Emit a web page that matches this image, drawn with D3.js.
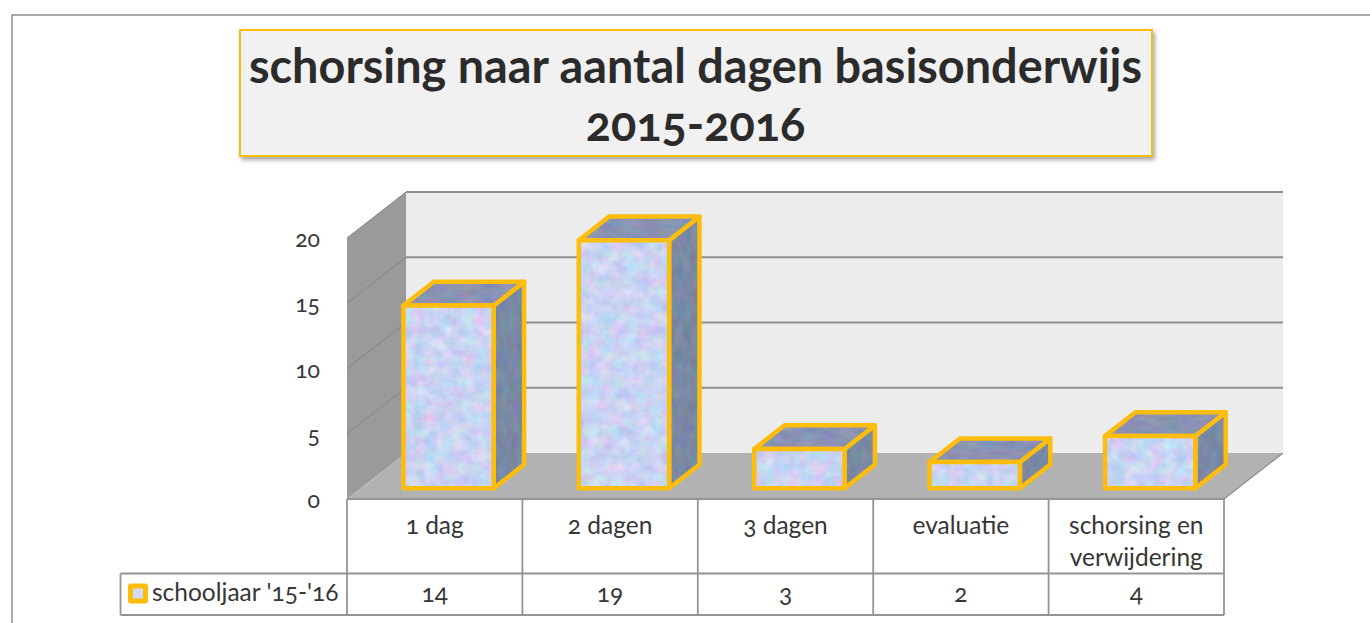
<!DOCTYPE html>
<html>
<head>
<meta charset="utf-8">
<script src="https://cdn.jsdelivr.net/npm/d3@7"></script>
<style>
  html, body { margin: 0; padding: 0; background: #fff; overflow: hidden; }
  svg { display: block; }
  text { font-family: "Lato", "Open Sans", sans-serif; fill: #363636; font-variant-numeric: oldstyle-nums; }
</style>
</head>
<body>
<svg id="chart" width="1370" height="623"></svg>
<script>
var categories = ["1 dag", "2 dagen", "3 dagen", "evaluatie", "schorsing en|verwijdering"];
var values = [14, 19, 3, 2, 4];
var seriesName = "schooljaar '15-'16";
var yTicks = [0, 5, 10, 15, 20];
var titleLines = ["schorsing naar aantal dagen basisonderwijs", "2015-2016"];

var svg = d3.select("#chart");
var defs = svg.append("defs");

var gold = "#fcbd0d", gridGrey = "#8e8e8e";

// mottled fills for the bar faces
function marble(id, freq, seed, matrix) {
  var f = defs.append("filter").attr("id", id)
    .attr("color-interpolation-filters", "sRGB")
    .attr("x", "0").attr("y", "0").attr("width", "100%").attr("height", "100%");
  f.append("feTurbulence").attr("type", "fractalNoise")
    .attr("baseFrequency", freq).attr("numOctaves", 4).attr("seed", seed);
  f.append("feColorMatrix").attr("type", "matrix").attr("values", matrix);
  f.append("feComposite").attr("operator", "in").attr("in2", "SourceGraphic");
}
marble("faceFront", "0.08", 3,
  "0.3 0 0 0 0.64  0 0.22 0 0 0.72  0 0 0.1 0 0.90  0 0 0 0 1");
marble("faceSide", "0.12 0.06", 8,
  "0.15 0 0 0 0.40  0 0.15 0 0 0.46  0 0 0.15 0 0.57  0 0 0 0 1");
marble("faceTop", "0.05 0.14", 5,
  "0.2 0 0 0 0.44  0 0.15 0 0 0.50  0 0 0.15 0 0.63  0 0 0 0 1");

var shadow = defs.append("filter").attr("id", "titleShadow")
  .attr("x", "-5%").attr("y", "-10%").attr("width", "110%").attr("height", "125%");
shadow.append("feDropShadow").attr("dx", 2).attr("dy", 3).attr("stdDeviation", 2)
  .attr("flood-color", "#000").attr("flood-opacity", 0.35);

// outer frame, runs off the right and bottom of the page
svg.append("rect").attr("x", 12).attr("y", 15).attr("width", 1400).attr("height", 640)
  .attr("fill", "#fff").attr("stroke", "#979797").attr("stroke-width", 1.6);

// title box
svg.append("rect").attr("x", 240).attr("y", 30).attr("width", 912).attr("height", 126)
  .attr("fill", "#f1f1f1").attr("stroke", gold).attr("stroke-width", 2)
  .attr("filter", "url(#titleShadow)");
svg.selectAll("text.title").data(titleLines).enter().append("text")
  .attr("class", "title")
  .attr("x", 695.5)
  .attr("y", function(d, i) { return 83 + i * 58; })
  .attr("text-anchor", "middle")
  .style("font-size", "46.8px").style("font-weight", 700)
  .style("fill", "#2b2b2b")
  .text(function(d) { return d; });

// scales
var plotLeft = 347, plotRight = 1224, floorY = 499;
var x = d3.scaleBand().domain(categories).range([plotLeft, plotRight]);
var y = d3.scaleLinear().domain([0, 20]).range([floorY, floorY - 261]);
var depthX = d3.scaleLinear().domain([0, 1]).range([0, 59]);
var depthY = d3.scaleLinear().domain([0, 1]).range([0, -46]);

// project a point: category position, value, depth into the chart
function pt(px, v, d) {
  return [px + depthX(d), y(v) + depthY(d)];
}
function poly(points) {
  return points.map(function(p) { return p.join(","); }).join(" ");
}

// back wall
svg.append("polygon")
  .attr("points", poly([pt(plotLeft, 0, 1), pt(plotRight, 0, 1), pt(plotRight, 20, 1), pt(plotLeft, 20, 1)]))
  .attr("fill", "#ececec");
// side wall
svg.append("polygon")
  .attr("points", poly([pt(plotLeft, 0, 0), pt(plotLeft, 0, 1), pt(plotLeft, 20, 1), pt(plotLeft, 20, 0)]))
  .attr("fill", "#9a9a9a");
// floor
svg.append("polygon")
  .attr("points", poly([pt(plotLeft, 0, 0), pt(plotRight, 0, 0), pt(plotRight, 0, 1), pt(plotLeft, 0, 1)]))
  .attr("fill", "#b2b2b2");

// gridlines: thin on the side wall, heavier on the back wall
yTicks.filter(function(t) { return t > 0; }).forEach(function(t) {
  svg.append("line")
    .attr("x1", pt(plotLeft, t, 0)[0]).attr("y1", pt(plotLeft, t, 0)[1])
    .attr("x2", pt(plotLeft, t, 1)[0]).attr("y2", pt(plotLeft, t, 1)[1])
    .attr("stroke", "#858585").attr("stroke-width", 1);
  svg.append("line")
    .attr("x1", pt(plotLeft, t, 1)[0]).attr("y1", pt(plotLeft, t, 1)[1])
    .attr("x2", pt(plotRight, t, 1)[0]).attr("y2", pt(plotRight, t, 1)[1])
    .attr("stroke", gridGrey).attr("stroke-width", 1.8);
});
svg.append("line")
  .attr("x1", pt(plotRight, 0, 0)[0]).attr("y1", pt(plotRight, 0, 0)[1])
  .attr("x2", pt(plotRight, 0, 1)[0]).attr("y2", pt(plotRight, 0, 1)[1])
  .attr("stroke", gridGrey).attr("stroke-width", 1.2);

// y tick labels
svg.selectAll("text.ytick").data(yTicks).enter().append("text")
  .attr("class", "ytick")
  .attr("x", 320).attr("y", function(d) { return y(d) + 9; })
  .attr("text-anchor", "end")
  .style("font-size", "23px")
  .text(function(d) { return d; });

// bars
var barFront = 0.235, barBack = 0.75, barWidth = x.bandwidth() * 0.515;
var bars = svg.selectAll("g.bar").data(values).enter().append("g").attr("class", "bar");

function barX0(d, i) { return x(categories[i]) + (x.bandwidth() - barWidth) / 2; }

function face(sel, cls, fn) {
  sel.append("polygon").attr("points", fn)
    .attr("fill", "#888").attr("filter", "url(#" + cls + ")");
  sel.append("polygon").attr("points", fn)
    .attr("fill", "none").attr("stroke", gold).attr("stroke-width", 4.5)
    .attr("stroke-linejoin", "round");
}
bars.each(function(d, i) {
  var g = d3.select(this);
  var x0 = barX0(d, i), x1 = x0 + barWidth;
  face(g, "faceSide", function() {
    return poly([pt(x1, 0, barFront), pt(x1, 0, barBack), pt(x1, d, barBack), pt(x1, d, barFront)]);
  });
  face(g, "faceTop", function() {
    return poly([pt(x0, d, barFront), pt(x1, d, barFront), pt(x1, d, barBack), pt(x0, d, barBack)]);
  });
  face(g, "faceFront", function() {
    return poly([pt(x0, 0, barFront), pt(x1, 0, barFront), pt(x1, d, barFront), pt(x0, d, barFront)]);
  });
});

// data table under the chart
var rowTop = floorY, rowMid = 573.5, rowBottom = 615, legendLeft = 120.5;
var table = svg.append("g").attr("stroke", "#949494").attr("stroke-width", 1.8);
table.append("line").attr("x1", plotLeft).attr("x2", plotRight).attr("y1", rowTop).attr("y2", rowTop);
table.append("line").attr("x1", legendLeft).attr("x2", plotRight).attr("y1", rowMid).attr("y2", rowMid);
table.append("line").attr("x1", legendLeft).attr("x2", plotRight).attr("y1", rowBottom).attr("y2", rowBottom);
table.append("line").attr("x1", legendLeft).attr("x2", legendLeft).attr("y1", rowMid).attr("y2", rowBottom);
x.domain().forEach(function(c) {
  table.append("line").attr("x1", x(c)).attr("x2", x(c)).attr("y1", rowTop).attr("y2", rowBottom);
});
table.append("line").attr("x1", plotRight).attr("x2", plotRight).attr("y1", rowTop).attr("y2", rowBottom);

// category labels
categories.forEach(function(c) {
  var lines = c.split("|");
  svg.append("text")
    .attr("text-anchor", "middle")
    .attr("x", x(c) + x.bandwidth() / 2)
    .style("font-size", "24.5px")
    .selectAll("tspan").data(lines).enter().append("tspan")
    .attr("x", x(c) + x.bandwidth() / 2)
    .attr("y", function(d, i) { return 534 + i * 32; })
    .text(function(d) { return d; });
});

// values row
svg.selectAll("text.val").data(values).enter().append("text")
  .attr("class", "val")
  .attr("x", function(d, i) { return x(categories[i]) + x.bandwidth() / 2; })
  .attr("y", 602)
  .attr("text-anchor", "middle")
  .style("font-size", "24.5px")
  .text(function(d) { return d; });

// legend key and name
svg.append("rect").attr("x", 128).attr("y", 583.5).attr("width", 20).attr("height", 20).attr("rx", 3)
  .attr("fill", gold);
svg.append("rect").attr("x", 133).attr("y", 588.5).attr("width", 10).attr("height", 10)
  .attr("fill", "#cfdcf4");
svg.append("text").attr("x", 152).attr("y", 601)
  .style("font-size", "24.5px").text(seriesName);
</script>
</body>
</html>
